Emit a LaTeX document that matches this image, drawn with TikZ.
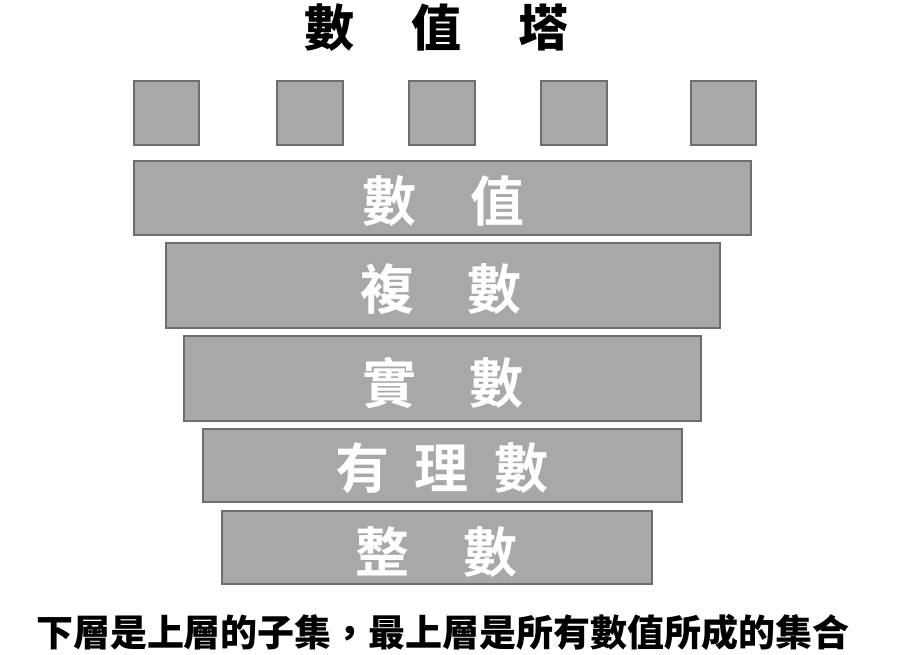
\documentclass[tikz,border=0pt]{standalone}
\usepackage{fontspec}
\newfontfamily\cjk{Noto Sans CJK TC}[BoldFont={Noto Sans CJK TC Bold}]
\newfontfamily\cjkheavy{Noto Sans CJK TC Black}
\definecolor{barfill}{HTML}{A8A8A8}
\definecolor{barline}{HTML}{6E6E6E}
\begin{document}
\begin{tikzpicture}[x=1pt,y=-1pt,
  blk/.style={fill=barfill,draw=barline,line width=1.2pt},
  bartext/.style={text=white,font=\cjk\bfseries\fontsize{54}{54}\selectfont,inner sep=0pt},
  titletext/.style={text=black,font=\cjkheavy\fontsize{50}{50}\selectfont,inner sep=0pt},
  notetext/.style={text=black,font=\cjkheavy\fontsize{37}{37}\selectfont,inner sep=0pt}]
\useasboundingbox (0,0) rectangle (903,655);
\node[titletext] (title) at (436,28) {數\hspace{57pt}值\hspace{57pt}塔};
% small squares
\draw[blk] (134,81) rectangle (199,145);
\draw[blk] (277,81) rectangle (343,145);
\draw[blk] (409,81) rectangle (475,145);
\draw[blk] (541,81) rectangle (607,145);
\draw[blk] (691,81) rectangle (756,145);
% bars
\draw[blk] (134,161) rectangle (751,235);
\draw[blk] (166,243) rectangle (720,328);
\draw[blk] (184,336) rectangle (701,421);
\draw[blk] (203,429) rectangle (682,502);
\draw[blk] (222,511) rectangle (652,584);
\node[bartext] (t1) at (443,201) {數\hspace{54pt}值};
\node[bartext] (t2) at (441,289) {複\hspace{53pt}數};
\node[bartext] (t3) at (443,383) {實\hspace{53pt}數};
\node[bartext] (t4) at (442,468) {有\hspace{26pt}理\hspace{26pt}數};
\node[bartext] (t5) at (436,552) {整\hspace{54pt}數};
\node[notetext] (note) at (443,632) {下層是上層的子集，最上層是所有數值所成的集合};
\end{tikzpicture}
\end{document}
